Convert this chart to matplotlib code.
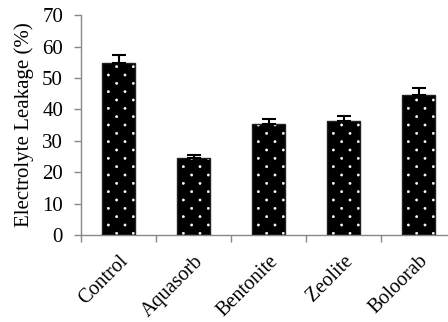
import numpy as np
import matplotlib
matplotlib.use('Agg')
import matplotlib.pyplot as plt
import matplotlib.hatch as mhatch
from matplotlib.path import Path
from matplotlib.transforms import ScaledTranslation

categories = ['Control', 'Aquasorb', 'Bentonite', 'Zeolite', 'Boloorab']
leakage = [54.8, 24.4, 35.3, 36.4, 44.6]
errors = [2.5, 1.1, 1.7, 1.6, 2.2]


# staggered dot texture: rows twice as close as the columns (like an Excel pattern fill)
class StaggerDots(mhatch.HatchPatternBase):
    def __init__(self, hatch, density):
        n = hatch.count('.') * density
        circ = Path.unit_circle()
        self.shape_vertices = circ.vertices * 0.011
        self.shape_codes = circ.codes
        self.centers = []
        if n:
            for r in range(2 * n + 1):
                if r % 2 == 0:
                    cols = np.linspace(0, 1, n + 1)
                else:
                    cols = np.linspace(0.5 / n, 1 - 0.5 / n, n)
                for c in cols:
                    self.centers.append((c, r / (2 * n)))
        self.num_vertices = len(self.centers) * len(self.shape_vertices)

    def set_vertices_and_codes(self, vertices, codes):
        vparts = [self.shape_vertices + c for c in self.centers]
        np.concatenate(vparts, out=vertices)
        np.concatenate([self.shape_codes] * len(self.centers), out=codes)


mhatch._hatch_types[mhatch._hatch_types.index(mhatch.SmallFilledCircles)] = StaggerDots

plt.rcParams['font.family'] = ['Liberation Serif', 'DejaVu Serif']
plt.rcParams['hatch.linewidth'] = 0.4

fig = plt.figure(figsize=(4.48, 3.22), dpi=100)
ax = fig.add_axes([0.181, 0.270, 0.837, 0.683])

x = list(range(len(categories)))
ax.bar(x, leakage, width=0.43, color='black', edgecolor='white', hatch='.', linewidth=0, zorder=2)
ax.bar(x, leakage, width=0.43, fill=False, edgecolor='#222222', linewidth=1, zorder=3)
ax.errorbar(x, leakage, yerr=[[0]*len(x), errors], fmt='none', ecolor='black',
            elinewidth=1.5, capsize=4.7, capthick=1.5, zorder=4)

ax.set_xlim(-0.5, 4.5)
ax.set_ylim(0, 70)
ax.set_yticks(range(0, 71, 10))
ax.set_xticks(x)
ax.set_xticklabels(categories, rotation=45, ha='right', rotation_mode='anchor', fontsize=14.5)
shift = ScaledTranslation(4/100, 0, fig.dpi_scale_trans)
for lbl in ax.get_xticklabels():
    lbl.set_transform(lbl.get_transform() + shift)
ax.set_xticks([i - 0.5 for i in x], minor=True)
ax.tick_params(axis='x', which='major', length=0, pad=12)
ax.tick_params(axis='x', which='minor', length=5, width=1, color='#888888')
ax.tick_params(axis='y', length=5, width=1, color='#888888', labelsize=15, pad=8)
ax.set_ylabel('Electrolyte Leakage (%)', fontsize=15, labelpad=6)

for s in ['top', 'right']:
    ax.spines[s].set_visible(False)
for s in ['left', 'bottom']:
    ax.spines[s].set_color('#888888')
    ax.spines[s].set_linewidth(1)

fig.savefig('out.png', dpi=100)
